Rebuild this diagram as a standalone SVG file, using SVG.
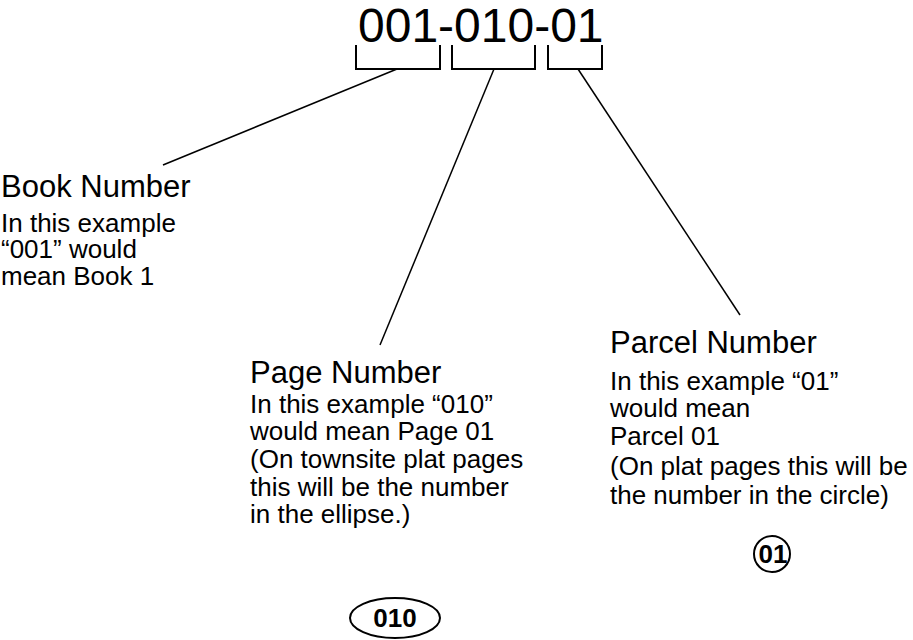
<svg xmlns="http://www.w3.org/2000/svg" width="913" height="640" viewBox="0 0 913 640">
<style>
text{font-family:"Liberation Sans",Arial,sans-serif;fill:#000}
.title{font-size:48px}
.head{font-size:31px}
.body{font-size:26px}
.num{font-size:26px;font-weight:bold}
.bracket{fill:none;stroke:#000;stroke-width:2}
.conn{stroke:#000;stroke-width:1.5;fill:none}
.shape{fill:#fff;stroke:#000;stroke-width:2}
</style>
<rect width="913" height="640" fill="#fff"/>
<g id="code">
<text class="title" x="358" y="42">001-010-01</text>
<path class="bracket" d="M356,45V69H440V45 M452,45V69H535V45 M548,45V69H602V45"/>
</g>
<g id="connectors">
<line class="conn" x1="397" y1="69" x2="163" y2="165"/>
<line class="conn" x1="494" y1="69" x2="380" y2="345"/>
<line class="conn" x1="578" y1="69" x2="740" y2="315"/>
</g>
<g id="book">
<text class="head" x="1" y="197">Book Number</text>
<text class="body" x="1" y="232">In this example</text>
<text class="body" x="1" y="258">“001” would</text>
<text class="body" x="1" y="285">mean Book 1</text>
</g>
<g id="page">
<text class="head" x="250" y="383">Page Number</text>
<text class="body" x="250" y="413">In this example “010”</text>
<text class="body" x="250" y="440">would mean Page 01</text>
<text class="body" x="250" y="468">(On townsite plat pages</text>
<text class="body" x="250" y="496">this will be the number</text>
<text class="body" x="250" y="523">in the ellipse.)</text>
</g>
<g id="parcel">
<text class="head" x="610" y="353">Parcel Number</text>
<text class="body" x="610" y="390">In this example “01”</text>
<text class="body" x="610" y="417">would mean</text>
<text class="body" x="610" y="445">Parcel 01</text>
<text class="body" x="610" y="475">(On plat pages this will be</text>
<text class="body" x="610" y="504">the number in the circle)</text>
</g>
<g id="ellipse-010">
<ellipse class="shape" cx="395" cy="618" rx="45" ry="20"/>
<text class="num" x="395" y="627" text-anchor="middle">010</text>
</g>
<g id="circle-01">
<circle class="shape" cx="772" cy="554" r="18"/>
<text class="num" x="773" y="563" text-anchor="middle">01</text>
</g>
</svg>
